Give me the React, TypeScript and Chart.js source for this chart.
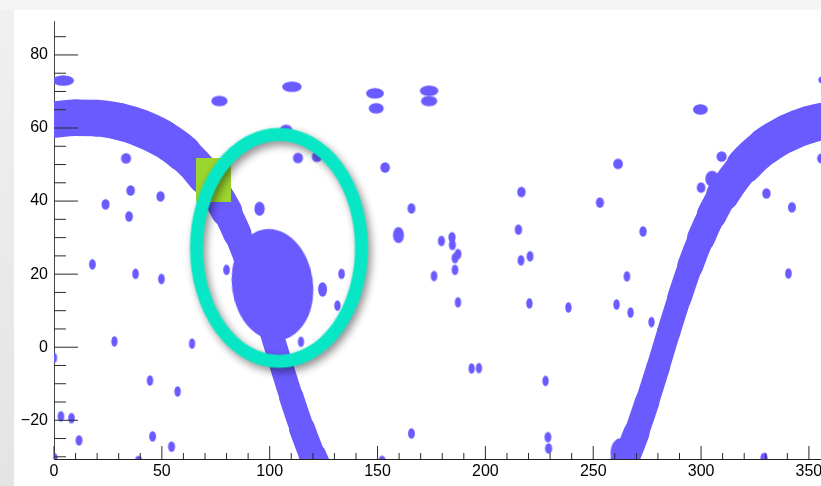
import React, { useEffect, useRef } from "react";
import { Chart, registerables } from "chart.js";

Chart.register(...registerables);

// ---- axes (RA / Dec in degrees) ----
const raRange = [0, 355.6];
const decRange = [-30.6, 89.1];
const raTicks = [0, 50, 100, 150, 200, 250, 300, 350];
const decTicks = [-20, 0, 20, 40, 60, 80];
const raMinorStep = 10;
const decMinorStep = 5;

// ---- point sources ----
const sourceRA = [
  4.3, 76.7, 110.3, 148.8, 149.4, 173.9, 173.9, 153.5, 113.1, 121.9, 107.6,
  216.7, 215.3, 165.7, 179.6, 184.5, 184.7, 176.2, 185.9, 187.3, 185.9, 187.3,
  216.5, 220.7, 220.4, 193.6, 197.0, 227.9, 165.7, 229.0, 229.3, 152.1, 133.3,
  131.4, 114.5, 17.8, 37.8, 49.8, 28.0, 64.0, 0.0, 44.5, 57.3, 3.2, 8.1, 11.6,
  45.7, 54.5, 39.2, 0.0, 80.0, 33.4, 35.5, 49.4, 23.9, 34.8, 299.7, 261.5,
  253.1, 273.1, 309.5, 300.0, 330.3, 342.1, 359.3, 356.1, 265.6, 260.8, 267.3,
  277.0, 340.5, 238.5, 329.2,
];
const sourceDec = [
  73.0, 67.4, 71.3, 69.5, 65.4, 70.2, 67.4, 49.2, 51.8, 52.1, 59.5,
  42.5, 32.2, 38.0, 29.1, 30.1, 28.0, 19.5, 24.4, 25.5, 21.2, 12.3,
  23.8, 24.9, 12.0, -5.8, -5.7, -9.2, -23.6, -24.6, -27.7, -31.1, 20.1,
  11.4, 1.5, 22.7, 20.1, 18.7, 1.6, 1.0, -2.9, -9.1, -12.1, -18.9, -19.4, -25.5,
  -24.4, -27.2, -31.1, -30.3, 21.2, 51.7, 42.9, 41.3, 39.1, 35.8, 65.1, 50.2,
  39.6, 31.7, 52.2, 43.7, 42.1, 38.3, 73.2, 51.7, 19.4, 11.7, 9.5,
  6.9, 20.2, 10.9, -30.3,
];
const sourceRadius = 1.45;

const largeRA = [159.7, 124.5, 95.3, 305.1, 262.6];
const largeDec = [30.7, 15.8, 37.9, 46.1, -28.9];
const largeRadius = [2.2, 2.0, 1.9, 2.2, 4.0];

// ---- band (centre line) ----
const bandDescRA = [0, 10, 20, 30, 40, 50, 60, 70, 80, 85, 90, 95, 100, 105, 110, 115, 120, 125];
const bandDescDec = [62.3, 62.8, 62.7, 61.8, 60.0, 57.2, 53.0, 46.6, 37.2, 31.0, 23.5, 14.9, 5.6, -4.2, -13.6, -22.3, -30.0, -36.4];
const bandRiseRA = [258, 265, 270, 275, 280, 285, 290, 295, 300, 305, 310, 320, 330, 340, 350, 360];
const bandRiseDec = [-39.5, -30.9, -23.5, -14.9, -5.6, 4.2, 13.6, 22.3, 29.9, 36.3, 41.7, 49.7, 55.1, 58.6, 60.9, 62.3];
const bandRadius = 5;

// ---- shapes ----
const blobCenter = [101.3, 17.1];
const blobRadius = [18.8, 15.3];
const blobTilt = -8;
const ringCenter = [104.3, 27.2];
const ringRadius = [38.25, 31.07];
const boxCenter = [73.95, 45.9];
const boxSize = [16.2, 12.0];

const MAIN = "#6a5bff";
const RING = "#08e7c5";
const BOX = "#9bd52f";
const FONT = "'Liberation Sans', Arial, Helvetica, sans-serif";
const DEG = Math.PI / 180;

const cache = new Map<string, HTMLCanvasElement>();

function ellipseImage(w: number, h: number, color: string): HTMLCanvasElement {
  const key = `e${w.toFixed(2)}_${h.toFixed(2)}_${color}`;
  const hit = cache.get(key);
  if (hit) return hit;
  const pad = 2;
  const c = document.createElement("canvas");
  c.width = Math.ceil(w) + pad * 2;
  c.height = Math.ceil(h) + pad * 2;
  const g = c.getContext("2d")!;
  g.fillStyle = color;
  g.beginPath();
  g.ellipse(c.width / 2, c.height / 2, w / 2, h / 2, 0, 0, Math.PI * 2);
  g.fill();
  cache.set(key, c);
  return c;
}

function rectImage(w: number, h: number, color: string): HTMLCanvasElement {
  const key = `r${w.toFixed(2)}_${h.toFixed(2)}_${color}`;
  const hit = cache.get(key);
  if (hit) return hit;
  const c = document.createElement("canvas");
  c.width = Math.round(w);
  c.height = Math.round(h);
  const g = c.getContext("2d")!;
  g.fillStyle = color;
  g.fillRect(0, 0, c.width, c.height);
  cache.set(key, c);
  return c;
}

function ringImage(rx: number, ry: number, lw: number, color: string): HTMLCanvasElement {
  const key = `o${rx.toFixed(2)}_${ry.toFixed(2)}_${lw}_${color}`;
  const hit = cache.get(key);
  if (hit) return hit;
  const m = 18;
  const c = document.createElement("canvas");
  c.width = Math.ceil(2 * rx + lw) + 2 * m;
  c.height = Math.ceil(2 * ry + lw) + 2 * m;
  const g = c.getContext("2d")!;
  g.shadowColor = "rgba(0,0,0,0.45)";
  g.shadowBlur = 8;
  g.shadowOffsetX = 3;
  g.shadowOffsetY = 4;
  g.strokeStyle = color;
  g.lineWidth = lw;
  g.beginPath();
  g.ellipse(c.width / 2, c.height / 2, rx, ry, 0, 0, Math.PI * 2);
  g.stroke();
  cache.set(key, c);
  return c;
}

function degPx(chart: any) {
  const xs = chart.scales.x;
  const ys = chart.scales.y;
  return {
    kx: Math.abs(xs.getPixelForValue(1) - xs.getPixelForValue(0)),
    ky: Math.abs(ys.getPixelForValue(0) - ys.getPixelForValue(1)),
  };
}

function skyDot(c: any) {
  if (c.type !== "data" || !c.raw) return "circle";
  const { kx, ky } = degPx(c.chart);
  const r = c.raw.r ?? sourceRadius;
  const w = (2 * r * kx) / Math.cos(c.raw.y * DEG);
  const h = 2 * r * ky;
  return ellipseImage(w, h, MAIN);
}

function bandWidth(sc: any) {
  const p0 = sc.p0;
  const p1 = sc.p1;
  if (!p0 || !p1) return 36;
  const chart = sc.chart;
  const { kx, ky } = degPx(chart);
  const dx = p1.x - p0.x;
  const dy = p1.y - p0.y;
  const len = Math.hypot(dx, dy) || 1;
  const s = dy / len;
  const co = dx / len;
  const dec = chart.scales.y.getValueForPixel((p0.y + p1.y) / 2);
  const a = (bandRadius / Math.cos(dec * DEG)) * kx;
  const b = bandRadius * ky;
  return 2 * Math.sqrt(a * a * s * s + b * b * co * co);
}

const minusLabel = (v: number) => (v < 0 ? "\u2212" + Math.abs(v) : String(v));

const tickPlugin = {
  id: "innerTicks",
  afterDraw(chart: any) {
    const { ctx, chartArea: a, scales } = chart;
    const xs = scales.x;
    const ys = scales.y;
    ctx.save();
    ctx.strokeStyle = "#2a2a2a";
    ctx.lineWidth = 1;
    ctx.beginPath();
    const y0 = Math.ceil(decRange[0] / decMinorStep) * decMinorStep;
    for (let v = y0; v <= decRange[1]; v += decMinorStep) {
      const py = ys.getPixelForValue(v);
      const len = decTicks.includes(v) ? 24 : 12;
      ctx.moveTo(a.left, py);
      ctx.lineTo(a.left + len, py);
    }
    for (let v = raRange[0]; v <= raRange[1]; v += raMinorStep) {
      const px = xs.getPixelForValue(v);
      const len = raTicks.includes(v) ? 13 : 6;
      ctx.moveTo(px, a.bottom);
      ctx.lineTo(px, a.bottom - len);
    }
    ctx.stroke();
    ctx.restore();
  },
};

export default function App() {
  const ref = useRef<HTMLCanvasElement | null>(null);

  useEffect(() => {
    if (!ref.current) return;
    const sources = sourceRA.map((x, i) => ({ x, y: sourceDec[i] }));
    const large = largeRA.map((x, i) => ({ x, y: largeDec[i], r: largeRadius[i] }));
    const desc = bandDescRA.map((x, i) => ({ x, y: bandDescDec[i] }));
    const rise = bandRiseRA.map((x, i) => ({ x, y: bandRiseDec[i] }));

    const bandDataset = (data: any[]) => ({
      type: "line",
      data,
      borderColor: MAIN,
      borderWidth: 36,
      borderCapStyle: "round",
      borderJoinStyle: "round",
      pointRadius: 0,
      pointHoverRadius: 0,
      cubicInterpolationMode: "monotone",
      capBezierPoints: false,
      fill: false,
      showLine: true,
      clip: 0,
      order: 6,
      segment: { borderWidth: bandWidth },
    });

    const chart = new Chart(ref.current, {
      type: "scatter",
      data: {
        datasets: [
          bandDataset(desc) as any,
          bandDataset(rise) as any,
          {
            type: "scatter",
            data: sources,
            pointStyle: skyDot,
            pointRadius: 30,
            pointHoverRadius: 30,
            pointBorderWidth: 0,
            clip: 0,
            order: 5,
          },
          {
            type: "scatter",
            data: large,
            pointStyle: skyDot,
            pointRadius: 40,
            pointHoverRadius: 40,
            pointBorderWidth: 0,
            clip: 0,
            order: 4,
          },
          {
            type: "scatter",
            data: [{ x: blobCenter[0], y: blobCenter[1] }],
            pointStyle: (c: any) => {
              if (c.type !== "data") return "circle";
              const { kx, ky } = degPx(c.chart);
              return ellipseImage(2 * blobRadius[0] * kx, 2 * blobRadius[1] * ky, MAIN);
            },
            pointRotation: blobTilt,
            pointRadius: 80,
            pointHoverRadius: 80,
            pointBorderWidth: 0,
            clip: 0,
            order: 3,
          },
          {
            type: "scatter",
            data: [{ x: boxCenter[0], y: boxCenter[1] }],
            pointStyle: (c: any) => {
              if (c.type !== "data") return "rect";
              const { kx, ky } = degPx(c.chart);
              return rectImage(boxSize[0] * kx, boxSize[1] * ky, BOX);
            },
            pointRadius: 40,
            pointHoverRadius: 40,
            pointBorderWidth: 0,
            clip: 0,
            order: 2,
          },
          {
            type: "scatter",
            data: [{ x: ringCenter[0], y: ringCenter[1] }],
            pointStyle: (c: any) => {
              if (c.type !== "data") return "circle";
              const { kx, ky } = degPx(c.chart);
              return ringImage(ringRadius[0] * kx, ringRadius[1] * ky, 13, RING);
            },
            pointRadius: 160,
            pointHoverRadius: 160,
            pointBorderWidth: 0,
            clip: 0,
            order: 1,
          },
        ],
      },
      options: {
        responsive: false,
        animation: false,
        events: [],
        layout: { autoPadding: false, padding: { top: 21.7, right: 0, bottom: 0, left: 0 } },
        plugins: { legend: { display: false }, tooltip: { enabled: false } },
        scales: {
          x: {
            type: "linear",
            position: "bottom",
            min: raRange[0],
            max: raRange[1],
            z: 1,
            grid: { display: false, drawTicks: false },
            border: { display: true, color: "#222", width: 1 },
            ticks: {
              padding: 3,
              color: "#000",
              font: { family: FONT, size: 16 },
              maxRotation: 0,
              autoSkip: false,
              callback: (v: any) => minusLabel(Number(v)),
            },
            afterBuildTicks: (s: any) => {
              s.ticks = raTicks.map((value) => ({ value }));
            },
            afterFit: (s: any) => {
              s.height = 27;
              s.paddingLeft = 0;
              s.paddingRight = 0;
            },
          },
          y: {
            type: "linear",
            min: decRange[0],
            max: decRange[1],
            z: 1,
            grid: { display: false, drawTicks: false },
            border: { display: true, color: "#444", width: 1 },
            ticks: {
              padding: 6,
              color: "#000",
              font: { family: FONT, size: 16 },
              autoSkip: false,
              callback: (v: any) => minusLabel(Number(v)),
            },
            afterBuildTicks: (s: any) => {
              s.ticks = decTicks.map((value) => ({ value }));
            },
            afterFit: (s: any) => {
              s.width = 54;
              s.paddingTop = 0;
              s.paddingBottom = 0;
            },
          },
        },
      } as any,
      plugins: [tickPlugin],
    });
    return () => chart.destroy();
  }, []);

  return (
    <div
      style={{
        position: "fixed",
        left: 0,
        top: 0,
        width: 821,
        height: 486,
        overflow: "hidden",
        background: "#f5f5f5",
      }}
    >
      <div
        style={{
          position: "absolute",
          left: 0,
          top: 10,
          width: 14,
          bottom: 0,
          background: "linear-gradient(#f0f0f0, #e4e4e4)",
        }}
      />
      <div
        style={{
          position: "absolute",
          left: 14,
          top: 10,
          right: 0,
          bottom: 0,
          background: "#ffffff",
        }}
      />
      <canvas
        ref={ref}
        width={821}
        height={486}
        style={{ position: "absolute", left: 0, top: 0, display: "block" }}
      />
    </div>
  );
}
